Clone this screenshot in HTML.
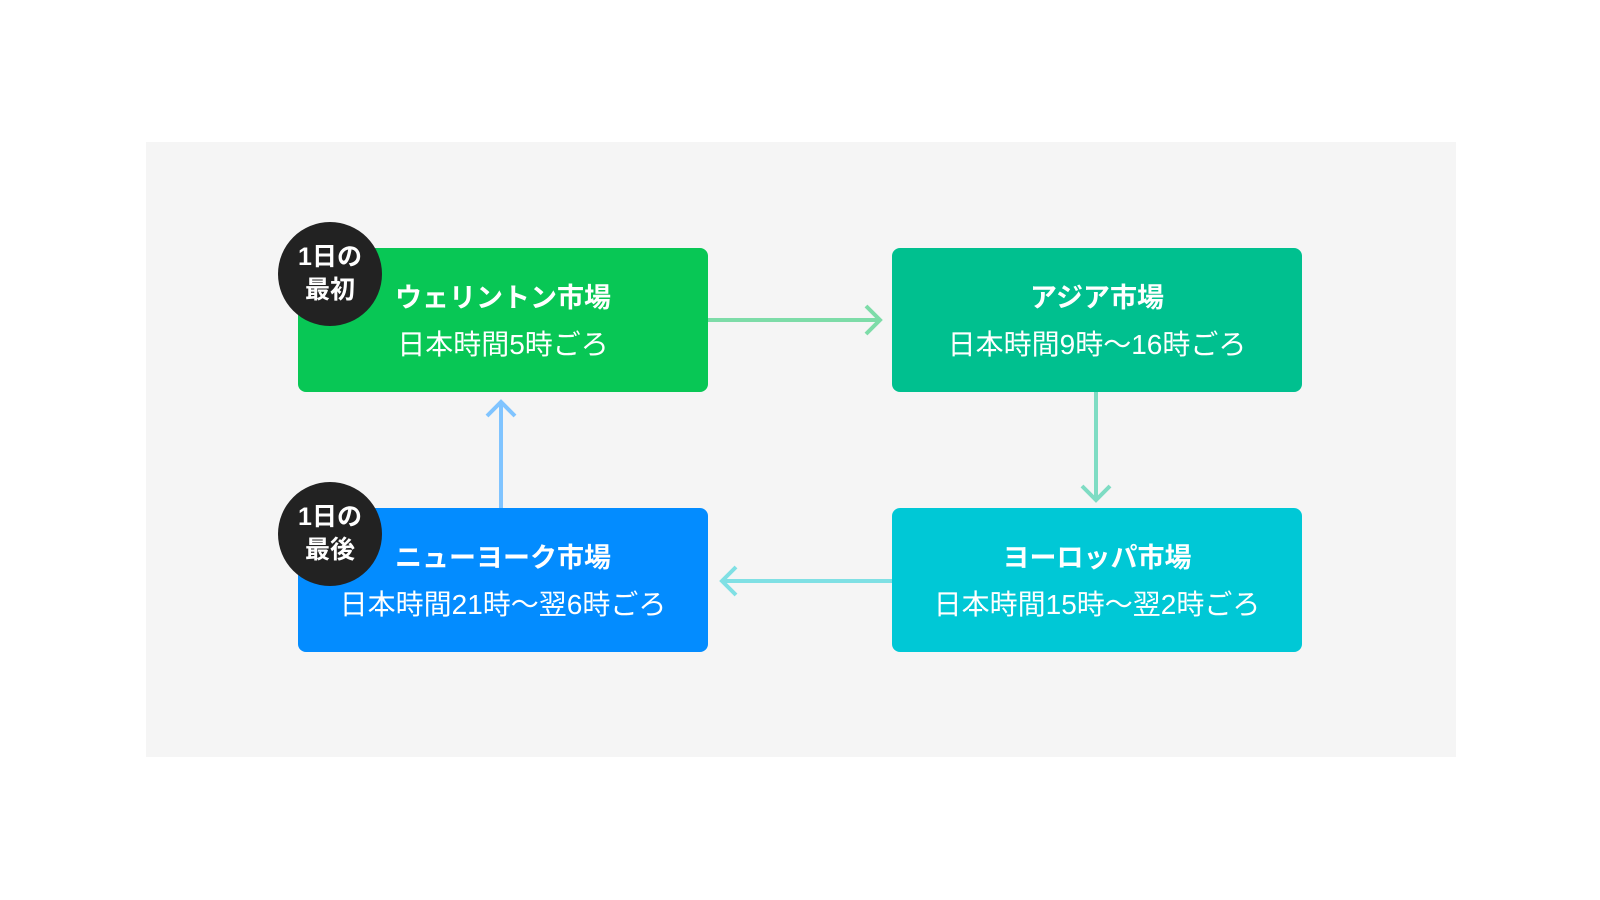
<!DOCTYPE html>
<html><head><meta charset="utf-8"><style>
body{margin:0;width:1600px;height:900px;background:#fff;position:relative;overflow:hidden;font-family:"Liberation Sans","Noto Sans CJK JP",sans-serif;}
.panel{position:absolute;left:146px;top:142px;width:1310px;height:615px;background:#f5f5f5;}
.box{position:absolute;width:410px;height:144px;border-radius:8px;color:#fff;text-align:center;}
.t{position:absolute;left:0;right:0;top:30px;font-size:27px;font-weight:bold;line-height:40px;}
.s{position:absolute;left:0;right:0;top:77px;font-size:28px;line-height:40px;}
.c{position:absolute;width:104px;height:104px;border-radius:50%;background:#222;color:#fff;font-weight:bold;font-size:25px;line-height:33px;text-align:center;display:flex;flex-direction:column;justify-content:center;}
svg{position:absolute;left:0;top:0}
</style></head><body>
<div class="panel"></div>
<svg width="1600" height="900">
<g fill="none" stroke-width="4">
<path d="M708 320H880M866 306L880 320L866 334" stroke="#7ddca8"/>
<path d="M1096 392V500M1082 486L1096 500L1110 486" stroke="#7edcc3"/>
<path d="M892 581H722M736 567L722 581L736 595" stroke="#80e0e4"/>
<path d="M501 508V402M487 416L501 402L515 416" stroke="#80c4ff"/>
</g></svg>
<div class="box" style="left:298px;top:248px;background:#08c755"><div class="t">ウェリントン市場</div><div class="s">日本時間5時ごろ</div></div>
<div class="box" style="left:892px;top:248px;background:#00c08f"><div class="t">アジア市場</div><div class="s">日本時間9時～16時ごろ</div></div>
<div class="box" style="left:892px;top:508px;background:#00c8d6"><div class="t">ヨーロッパ市場</div><div class="s">日本時間15時～翌2時ごろ</div></div>
<div class="box" style="left:298px;top:508px;background:#038cff"><div class="t">ニューヨーク市場</div><div class="s">日本時間21時～翌6時ごろ</div></div>
<div class="c" style="left:278px;top:222px"><div>1日の</div><div>最初</div></div>
<div class="c" style="left:278px;top:482px"><div>1日の</div><div>最後</div></div>
</body></html>
